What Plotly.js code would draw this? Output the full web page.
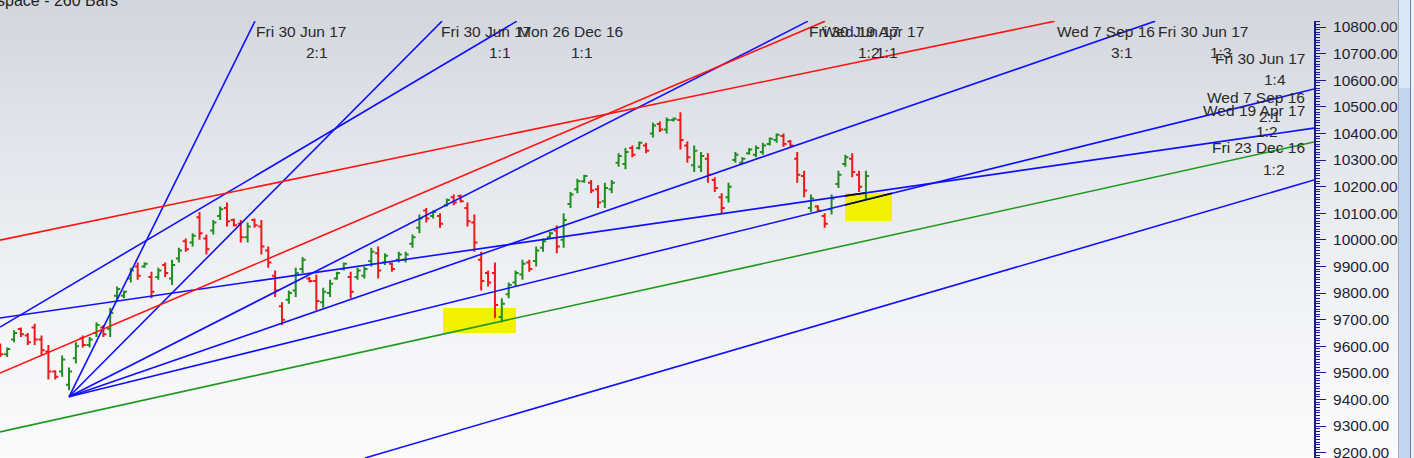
<!DOCTYPE html>
<html>
<head>
<meta charset="utf-8">
<script src="https://cdn.plot.ly/plotly-3.0.1.min.js"></script>
<style>
html,body{margin:0;padding:0;width:1414px;height:458px;overflow:hidden;
  background:linear-gradient(to bottom,#d2d5dc 0%,#e4e7ec 35%,#f3f4f6 70%,#fbfbfc 100%);}
#chart{position:absolute;left:0;top:0;width:1414px;height:458px;}
.sb{position:absolute;top:0;height:458px;z-index:5;}
</style>
</head>
<body>
<div id="chart"></div>
<div class="sb" style="left:1398px;width:1px;background:#a3adbd"></div>
<div class="sb" style="left:1399px;width:11px;background:#c3d6ee"></div>
<div class="sb" style="left:1399px;width:11px;height:88px;background:#dce8f6"></div>
<div class="sb" style="left:1410px;width:1px;background:#5f80b4"></div>
<div class="sb" style="left:1411px;width:3px;background:#eef2f7"></div>
<script>
// ---------------- DATA ----------------
const opens = [
 9600, 9570, 9625, 9665, 9640, 9670, 9625, 9580, 9505, 9505,
 9455, 9555, 9630, 9605, 9650, 9670, 9665, 9790, 9790, 9855,
 9900, 9900, 9860, 9860, 9905, 9855, 9930, 9995, 9990, 10085,
 10005, 10035, 10090, 10120, 10075, 10060, 10010, 10075, 10050, 9960,
 9865, 9750, 9775, 9810, 9890, 9855, 9845, 9765, 9800, 9855,
 9890, 9860, 9860, 9865, 9920, 9950, 9915, 9910, 9925, 9925,
 9985, 10045, 10110, 10090, 10090, 10130, 10160, 10165, 10120, 10065,
 9925, 9875, 9875, 9710, 9795, 9840, 9870, 9915, 9920, 9970,
 10010, 10035, 10000, 10135, 10190, 10220, 10215, 10190, 10145, 10190,
 10290, 10285, 10345, 10345, 10355, 10400, 10435, 10415, 10450, 10450,
 10355, 10280, 10275, 10305, 10225, 10160, 10160, 10300, 10290, 10325,
 10320, 10330, 10360, 10375, 10390, 10370, 10305, 10240, 10120, 10125,
 10090, 10115, 10210, 10285, 10305, 10245, 10175];
const highs = [
 9610, 9595, 9660, 9670, 9650, 9685, 9640, 9605, 9510, 9565,
 9520, 9615, 9640, 9635, 9690, 9680, 9745, 9825, 9810, 9895,
 9915, 9915, 9880, 9895, 9915, 9925, 9970, 10005, 10025, 10105,
 10020, 10075, 10125, 10140, 10080, 10075, 10065, 10080, 10075, 9975,
 9885, 9765, 9810, 9895, 9935, 9860, 9870, 9820, 9850, 9880,
 9915, 9880, 9895, 9900, 9970, 9975, 9950, 9915, 9955, 9955,
 10020, 10095, 10120, 10110, 10100, 10155, 10170, 10170, 10140, 10095,
 9955, 9885, 9915, 9780, 9840, 9885, 9925, 9925, 9975, 10005,
 10030, 10055, 10100, 10180, 10230, 10245, 10225, 10205, 10215, 10225,
 10325, 10345, 10355, 10370, 10365, 10440, 10445, 10460, 10460, 10480,
 10370, 10355, 10330, 10325, 10235, 10175, 10215, 10330, 10310, 10345,
 10355, 10365, 10385, 10400, 10400, 10375, 10330, 10260, 10170, 10130,
 10100, 10170, 10260, 10320, 10325, 10260, 10260];
const lows = [
 9560, 9560, 9615, 9635, 9605, 9605, 9565, 9475, 9475, 9485,
 9435, 9535, 9595, 9595, 9635, 9635, 9635, 9775, 9780, 9840,
 9850, 9895, 9780, 9850, 9860, 9830, 9915, 9955, 9975, 10000,
 9945, 10020, 10075, 10050, 10050, 9990, 9990, 10045, 9945, 9895,
 9785, 9680, 9760, 9785, 9875, 9840, 9735, 9745, 9785, 9850,
 9885, 9780, 9850, 9855, 9900, 9855, 9905, 9880, 9915, 9915,
 9970, 10025, 10065, 10080, 10045, 10125, 10130, 10140, 10050, 9955,
 9810, 9825, 9705, 9690, 9780, 9825, 9850, 9880, 9900, 9955,
 10005, 9950, 9970, 10120, 10175, 10215, 10175, 10120, 10120, 10175,
 10275, 10265, 10310, 10340, 10325, 10385, 10405, 10400, 10445, 10340,
 10290, 10255, 10255, 10215, 10180, 10100, 10140, 10290, 10285, 10320,
 10310, 10320, 10355, 10365, 10350, 10350, 10215, 10160, 10105, 10105,
 10045, 10095, 10195, 10275, 10235, 10180, 10150];
const closes = [
 9570, 9590, 9650, 9645, 9615, 9625, 9585, 9505, 9485, 9550,
 9505, 9600, 9605, 9625, 9680, 9645, 9725, 9815, 9805, 9885,
 9865, 9910, 9805, 9885, 9875, 9905, 9960, 9965, 10015, 10025,
 9965, 10065, 10115, 10070, 10055, 10010, 10050, 10055, 9975, 9915,
 9810, 9700, 9800, 9875, 9925, 9845, 9770, 9805, 9835, 9875,
 9910, 9805, 9885, 9890, 9955, 9885, 9940, 9890, 9945, 9945,
 10010, 10080, 10080, 10105, 10060, 10150, 10140, 10145, 10070, 9990,
 9845, 9840, 9755, 9760, 9830, 9875, 9910, 9890, 9960, 9995,
 10025, 9975, 10075, 10170, 10220, 10240, 10185, 10140, 10195, 10215,
 10315, 10330, 10320, 10365, 10335, 10430, 10415, 10450, 10455, 10375,
 10310, 10335, 10315, 10245, 10195, 10120, 10200, 10320, 10305, 10340,
 10345, 10355, 10380, 10395, 10360, 10355, 10245, 10185, 10155, 10110,
 10060, 10155, 10245, 10310, 10255, 10200, 10240];
const barNumbers = Array.from({length: highs.length}, (_, i) => i);

// Gann fan lines: bar number / price at start and end
const fanNames = ['Fri 30 Jun 17 2:1','Fri 30 Jun 17 1:1','Fri 30 Jun 17 1:2','Fri 30 Jun 17 1:3',
  'Fri 30 Jun 17 1:4','Mon 26 Dec 16 1:1','Wed 19 Apr 17 1:2','Fri 23 Dec 16 1:2',
  'Wed 7 Sep 16 2:1','Wed 7 Sep 16 3:1','Wed 19 Apr 17 1:1'];
const fanStartBar   = [10, 10, 10, 10, 10, -0.044, -0.044, 53.08, -0.044, -0.044, -0.044];
const fanStartPrice = [9410, 9410, 9410, 9410, 9410, 9672, 9706, 9180, 9278, 9999, 9499];
const fanEndBar     = [37.07, 64.29, 117.57, 168.1, 191.22, 75.2, 191.22, 191.22, 191.22, 153.5, 120.04];
const fanEndPrice   = [10822, 10822, 10822, 10822, 10567, 10822, 10420, 10225, 10368, 10822, 10822];

// highlighted zones
const zoneStartBar = [64.44, 122.96];
const zoneEndBar   = [75.07, 129.8];
const zoneLow      = [9650, 10071];
const zoneHigh     = [9744, 10176];

// label texts
const dateLabels = ['Fri 30 Jun 17','Fri 30 Jun 17','Mon 26 Dec 16','Fri 30 Jun 17','Wed 19 Apr 17',
  'Wed 7 Sep 16','Fri 30 Jun 17','Fri 30 Jun 17','Wed 7 Sep 16','Wed 19 Apr 17','Fri 23 Dec 16'];
const ratioLabels = ['2:1','1:1','1:1','1:2','1:1','3:1','1:3','1:4','2:1','1:2','1:2'];

// ---------------- STYLE ----------------
const BLUE = '#1010ff', RED = '#ff1414', GREEN = '#1f9a1f';
const fanColors = [BLUE,BLUE,BLUE,BLUE,BLUE,BLUE,BLUE,BLUE,GREEN,RED,RED];
const W = 1414, H = 458, ML = 0, MR = 100, MT = 21, MB = 0;
const PW = W - ML - MR, PH = H - MT - MB;
const xRange = [-0.044, 191.22], yRange = [9179.9, 10822.6];
const FONT = 'Liberation Sans, Arial, sans-serif';

// pixel positions for labels [x, y, anchor]
const datePos = [[254,31,'left'],[439,31,'left'],[516,31,'left'],[807,31,'left'],[820,31,'left'],
  [1055,31,'left'],[1156,31,'left'],[1307,58,'right'],[1307,97,'right'],[1307,110,'right'],[1307,147,'right']];
const ratioPos = [[317,52],[500,52],[582,52],[869,52],[887,52],[1122,52],[1221,52],[1275,79],[1270,117],[1267,131],[1274,169]];

const px = x => (x - ML) / PW;
const py = y => 1 - (y - MT) / PH;

const traces = [];
traces.push({
  type: 'ohlc', x: barNumbers, open: opens, high: highs, low: lows, close: closes,
  increasing: {line: {color: '#1f8f1f', width: 2}},
  decreasing: {line: {color: '#ee1a1a', width: 2}},
  tickwidth: 0.45, hoverinfo: 'skip', showlegend: false
});
for (let i = 0; i < fanNames.length; i++) {
  traces.push({
    type: 'scatter', mode: 'lines', name: fanNames[i],
    x: [fanStartBar[i], fanEndBar[i]], y: [fanStartPrice[i], fanEndPrice[i]],
    line: {color: fanColors[i], width: 1.6}, hoverinfo: 'skip', showlegend: false
  });
}
// clip helper: portion of a fan line inside a zone (drawn dark over yellow)
function clip(x0, y0, x1, y1, xmin, xmax, ymin, ymax) {
  let t0 = 0, t1 = 1; const dx = x1 - x0, dy = y1 - y0;
  const p = [-dx, dx, -dy, dy], q = [x0 - xmin, xmax - x0, y0 - ymin, ymax - y0];
  for (let k = 0; k < 4; k++) {
    if (p[k] === 0) { if (q[k] < 0) return null; }
    else {
      const r = q[k] / p[k];
      if (p[k] < 0) { if (r > t1) return null; if (r > t0) t0 = r; }
      else { if (r < t0) return null; if (r < t1) t1 = r; }
    }
  }
  if (t1 <= t0) return null;
  return [x0 + t0 * dx, y0 + t0 * dy, x0 + t1 * dx, y0 + t1 * dy];
}
for (let z = 0; z < zoneStartBar.length; z++) {
  for (let i = 0; i < fanNames.length; i++) {
    if (fanColors[i] !== BLUE) continue;
    const c = clip(fanStartBar[i], fanStartPrice[i], fanEndBar[i], fanEndPrice[i],
      zoneStartBar[z], zoneEndBar[z], zoneLow[z], zoneHigh[z]);
    if (c) traces.push({type: 'scatter', mode: 'lines', x: [c[0], c[2]], y: [c[1], c[3]],
      line: {color: '#111111', width: 1.6}, hoverinfo: 'skip', showlegend: false});
  }
}

const shapes = zoneStartBar.map((s, z) => ({
  type: 'rect', layer: 'below', xref: 'x', yref: 'y',
  x0: s, x1: zoneEndBar[z], y0: zoneLow[z], y1: zoneHigh[z],
  fillcolor: '#f1f100', line: {width: 0}
}));

const annotations = [];
dateLabels.forEach((t, i) => annotations.push({
  xref: 'paper', yref: 'paper', x: px(datePos[i][0]), y: py(datePos[i][1]),
  xanchor: datePos[i][2], yanchor: 'middle', text: t, showarrow: false,
  font: {family: FONT, size: 15.5, color: '#2a2a2a'}
}));
ratioLabels.forEach((t, i) => annotations.push({
  xref: 'paper', yref: 'paper', x: px(ratioPos[i][0]), y: py(ratioPos[i][1]),
  xanchor: 'center', yanchor: 'middle', text: t, showarrow: false,
  font: {family: FONT, size: 15.5, color: '#2a2a2a'}
}));
annotations.push({
  xref: 'paper', yref: 'paper', x: px(-5), y: py(1), xanchor: 'left', yanchor: 'middle',
  text: 'space - 260 Bars', showarrow: false, font: {family: FONT, size: 16, color: '#222'}
});

const NAVY = '#1b1b8e';
const layout = {
  width: W, height: H, margin: {l: ML, r: MR, t: MT, b: MB, pad: 0},
  paper_bgcolor: 'rgba(0,0,0,0)', plot_bgcolor: 'rgba(0,0,0,0)',
  showlegend: false, dragmode: false, hovermode: false,
  xaxis: {visible: false, range: xRange, rangeslider: {visible: false}, fixedrange: true},
  yaxis: {
    side: 'right', range: yRange, tickmode: 'linear', tick0: 9200, dtick: 100,
    tickformat: '.2f', ticks: 'outside', ticklen: 10, tickwidth: 1, tickcolor: NAVY,
    showline: true, linecolor: NAVY, linewidth: 2, showgrid: false, zeroline: false,
    ticklabelstandoff: 4, ticklabeloverflow: 'allow',
    tickfont: {family: FONT, size: 15.5, color: '#1e1e30'},
    minor: {dtick: 10, ticks: 'outside', ticklen: 4, tickcolor: NAVY, tickwidth: 1, showgrid: false},
    fixedrange: true
  },
  shapes: shapes, annotations: annotations
};
Plotly.newPlot('chart', traces, layout, {displayModeBar: false, staticPlot: true});
</script>
</body>
</html>
